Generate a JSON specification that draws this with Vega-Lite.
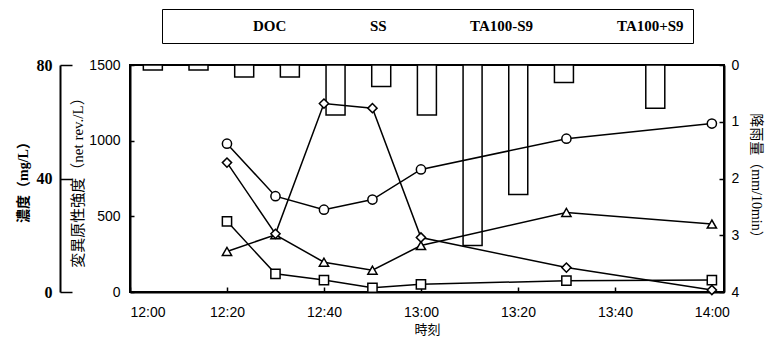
{
  "$schema": "https://vega.github.io/schema/vega-lite/v6.json",
  "width": 594,
  "height": 227,
  "autosize": {"type": "none"},
  "padding": {"left": 130, "top": 65, "right": 51, "bottom": 48},
  "background": "white",
  "config": {
    "view": {"stroke": "black", "strokeWidth": 2},
    "axis": {
      "grid": false,
      "domainColor": "black",
      "domainWidth": 2,
      "tickColor": "black",
      "tickWidth": 1.5,
      "labelColor": "black",
      "titleColor": "black",
      "labelFont": "Liberation Sans",
      "labelFontSize": 14,
      "titleFontWeight": "normal"
    }
  },
  "layer": [
    {
      "data": {"values": [
        {"start": 2.75, "end": 6.67, "rainfall": 0.09},
        {"start": 12.17, "end": 16.09, "rainfall": 0.09},
        {"start": 21.59, "end": 25.51, "rainfall": 0.21},
        {"start": 31.01, "end": 34.93, "rainfall": 0.21},
        {"start": 40.43, "end": 44.35, "rainfall": 0.88},
        {"start": 49.85, "end": 53.77, "rainfall": 0.38},
        {"start": 59.27, "end": 63.19, "rainfall": 0.88},
        {"start": 68.69, "end": 72.61, "rainfall": 3.18},
        {"start": 78.11, "end": 82.03, "rainfall": 2.28},
        {"start": 87.53, "end": 91.45, "rainfall": 0.31},
        {"start": 106.37, "end": 110.29, "rainfall": 0.76}
      ]},
      "mark": {"type": "bar", "fill": "white", "stroke": "black", "strokeWidth": 1.5},
      "encoding": {
        "x": {
          "field": "start", "type": "quantitative",
          "scale": {"domain": [0, 122.5], "nice": false, "zero": false},
          "axis": {
            "values": [0, 20, 40, 60, 80, 100, 120],
            "labelExpr": "(12 + floor(datum.value / 60)) + ':' + (datum.value % 60 < 10 ? '0' : '') + (datum.value % 60)",
            "tickSize": -5, "labelPadding": 18,
            "title": "時刻", "titleFont": "Noto Sans CJK JP", "titleFontSize": 13, "titlePadding": 4
          }
        },
        "x2": {"field": "end"},
        "y": {
          "field": "rainfall", "type": "quantitative",
          "scale": {"domain": [0, 4], "reverse": true, "nice": false},
          "axis": {
            "orient": "right", "values": [0, 1, 2, 3, 4], "tickSize": -5, "labelPadding": 12,
            "title": "降雨量（mm/10min）", "titleFont": "Liberation Serif, Noto Sans CJK JP",
            "titleFontSize": 14, "titlePadding": 10
          }
        },
        "y2": {"datum": 0}
      }
    },
    {
      "data": {"values": [
        {"minute": 20, "series": "TA100-S9", "value": 268},
        {"minute": 30, "series": "TA100-S9", "value": 378},
        {"minute": 40, "series": "TA100-S9", "value": 197},
        {"minute": 50, "series": "TA100-S9", "value": 144},
        {"minute": 60, "series": "TA100-S9", "value": 307},
        {"minute": 90, "series": "TA100-S9", "value": 526},
        {"minute": 120, "series": "TA100-S9", "value": 449},
        {"minute": 20, "series": "TA100+S9", "value": 980},
        {"minute": 30, "series": "TA100+S9", "value": 633},
        {"minute": 40, "series": "TA100+S9", "value": 544},
        {"minute": 50, "series": "TA100+S9", "value": 611},
        {"minute": 60, "series": "TA100+S9", "value": 810},
        {"minute": 90, "series": "TA100+S9", "value": 1013},
        {"minute": 120, "series": "TA100+S9", "value": 1113}
      ]},
      "layer": [
        {
          "mark": {"type": "line", "color": "black", "strokeWidth": 1.5},
          "encoding": {
            "x": {"field": "minute", "type": "quantitative"},
            "y": {
              "field": "value", "type": "quantitative",
              "scale": {"domain": [0, 1500], "nice": false},
              "axis": {
                "orient": "left", "values": [0, 500, 1000, 1500], "format": "d", "tickSize": -4, "labelPadding": 14,
                "title": "変異原性強度（net rev./L）", "titleFont": "Liberation Serif, Noto Sans CJK JP",
                "titleFontSize": 15, "titlePadding": 3
              }
            },
            "detail": {"field": "series"}
          }
        },
        {
          "mark": {"type": "point", "filled": true, "fill": "white", "stroke": "black", "strokeWidth": 1.5, "size": 85, "opacity": 1},
          "encoding": {
            "x": {"field": "minute", "type": "quantitative"},
            "y": {"field": "value", "type": "quantitative"},
            "shape": {
              "field": "series", "type": "nominal",
              "scale": {"domain": ["DOC", "SS", "TA100-S9", "TA100+S9"], "range": ["square", "diamond", "triangle-up", "circle"]},
              "legend": {
                "orient": "none", "legendX": 32, "legendY": -56, "direction": "horizontal", "title": null,
                "symbolSize": 100, "symbolFillColor": "white", "symbolStrokeColor": "black", "symbolStrokeWidth": 1.5,
                "labelFont": "Liberation Serif", "labelFontWeight": "bold", "labelFontSize": 15, "labelColor": "black",
                "labelOffset": 67, "columnPadding": 0, "padding": 9, "cornerRadius": 0,
                "fillColor": "white", "strokeColor": "black",
                "encode": {
                  "legend": {"update": {"strokeWidth": {"value": 2}}},
                  "symbols": {"update": {
                    "fill": {"value": "white"},
                    "stroke": {"value": "black"},
                    "strokeWidth": {"value": 1.5},
                    "opacity": {"value": 1}
                  }}
                }
              }
            }
          }
        }
      ]
    },
    {
      "data": {"values": [
        {"minute": 20, "series": "DOC", "value": 24.9},
        {"minute": 30, "series": "DOC", "value": 6.4},
        {"minute": 40, "series": "DOC", "value": 4.2},
        {"minute": 50, "series": "DOC", "value": 1.5},
        {"minute": 60, "series": "DOC", "value": 2.7},
        {"minute": 90, "series": "DOC", "value": 4.0},
        {"minute": 120, "series": "DOC", "value": 4.2},
        {"minute": 20, "series": "SS", "value": 45.6},
        {"minute": 30, "series": "SS", "value": 20.5},
        {"minute": 40, "series": "SS", "value": 66.4},
        {"minute": 50, "series": "SS", "value": 64.8},
        {"minute": 60, "series": "SS", "value": 19.2},
        {"minute": 90, "series": "SS", "value": 8.6},
        {"minute": 120, "series": "SS", "value": 0.7}
      ]},
      "layer": [
        {
          "mark": {"type": "line", "color": "black", "strokeWidth": 1.5},
          "encoding": {
            "x": {"field": "minute", "type": "quantitative"},
            "y": {
              "field": "value", "type": "quantitative",
              "scale": {"domain": [0, 80], "nice": false},
              "axis": {
                "orient": "left", "offset": 70, "values": [0, 40, 80],
                "tickSize": -12, "labelPadding": 20,
                "labelFont": "Liberation Serif", "labelFontWeight": "bold", "labelFontSize": 16,
                "title": "濃度（mg/L）", "titleFont": "Liberation Serif, Noto Sans CJK JP", "titleFontWeight": "bold",
                "titleFontSize": 14, "titlePadding": 6
              }
            },
            "detail": {"field": "series"}
          }
        },
        {
          "mark": {"type": "point", "filled": true, "fill": "white", "stroke": "black", "strokeWidth": 1.5, "size": 85, "opacity": 1},
          "encoding": {
            "x": {"field": "minute", "type": "quantitative"},
            "y": {"field": "value", "type": "quantitative"},
            "shape": {"field": "series", "type": "nominal"}
          }
        }
      ]
    }
  ],
  "resolve": {"scale": {"y": "independent"}}
}
